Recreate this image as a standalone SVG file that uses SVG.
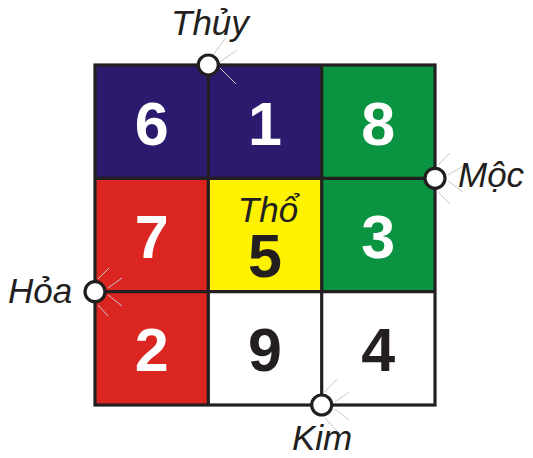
<svg xmlns="http://www.w3.org/2000/svg" width="533" height="458" viewBox="0 0 533 458">
<style>
.num{font-family:"Liberation Sans",Arial,sans-serif;font-weight:bold;font-size:61px;text-anchor:middle}
.w{fill:#ffffff}
.k{fill:#231f20}
.lbl{font-family:"Liberation Sans",Arial,sans-serif;font-style:italic;font-size:35px;fill:#231f20}
.grid{stroke:#231f20;stroke-width:3.2;fill:none}
.lead{stroke:#c8c8c8;stroke-width:1}
.node{fill:#ffffff;stroke:#231f20;stroke-width:3.2}
</style>
<rect width="533" height="458" fill="#ffffff"/>
<g id="cells">
<g id="c6"><rect x="95" y="65" width="113.3" height="113.3" fill="#2b1a6e"/><text class="num w" x="151.7" y="145">6</text></g>
<g id="c1"><rect x="208.3" y="65" width="113.4" height="113.3" fill="#2b1a6e"/><text class="num w" x="265" y="145">1</text></g>
<g id="c8"><rect x="321.7" y="65" width="113.3" height="113.3" fill="#0a9441"/><text class="num w" x="378.3" y="145">8</text></g>
<g id="c7"><rect x="95" y="178.3" width="113.3" height="113.4" fill="#da2520"/><text class="num w" x="151.7" y="258">7</text></g>
<g id="c5"><rect x="208.3" y="178.3" width="113.4" height="113.4" fill="#fff200"/><text class="lbl" x="268" y="222" text-anchor="middle" font-size="35">Thổ</text><text class="num k" x="265" y="277">5</text></g>
<g id="c3"><rect x="321.7" y="178.3" width="113.3" height="113.4" fill="#0a9441"/><text class="num w" x="378.3" y="258">3</text></g>
<g id="c2"><rect x="95" y="291.7" width="113.3" height="113.3" fill="#da2520"/><text class="num w" x="151.7" y="371">2</text></g>
<g id="c9"><rect x="208.3" y="291.7" width="113.4" height="113.3" fill="#ffffff"/><text class="num k" x="265" y="371">9</text></g>
<g id="c4"><rect x="321.7" y="291.7" width="113.3" height="113.3" fill="#ffffff"/><text class="num k" x="378.3" y="371">4</text></g>
</g>
<g id="connectors">
<path class="lead" d="M213 55L225 39M220 62L237 50M220 68L236 84M438 165L450 153M448 175L463 166M448 181L463 192M438 192L450 204M98 279L109 268M108 288L122 278M108 295L122 306M98 305L108 316M325 392L337 379M335 402L349 392M335 409L349 420M325 418L337 431"/>
<rect class="grid" x="95" y="65" width="340" height="340"/>
<path class="grid" d="M208.3 65V405M321.7 65V405M95 178.3H435M95 291.7H435"/>
</g>
<g id="thuy"><circle class="node" cx="208.3" cy="65" r="10"/><text class="lbl" x="171" y="35">Thủy</text></g>
<g id="moc"><circle class="node" cx="435" cy="178.3" r="10"/><text class="lbl" x="458" y="187">Mộc</text></g>
<g id="hoa"><circle class="node" cx="95" cy="291.7" r="10"/><text class="lbl" x="8" y="303">Hỏa</text></g>
<g id="kim"><circle class="node" cx="321.7" cy="405" r="10"/><text class="lbl" x="292" y="450">Kim</text></g>
</svg>
